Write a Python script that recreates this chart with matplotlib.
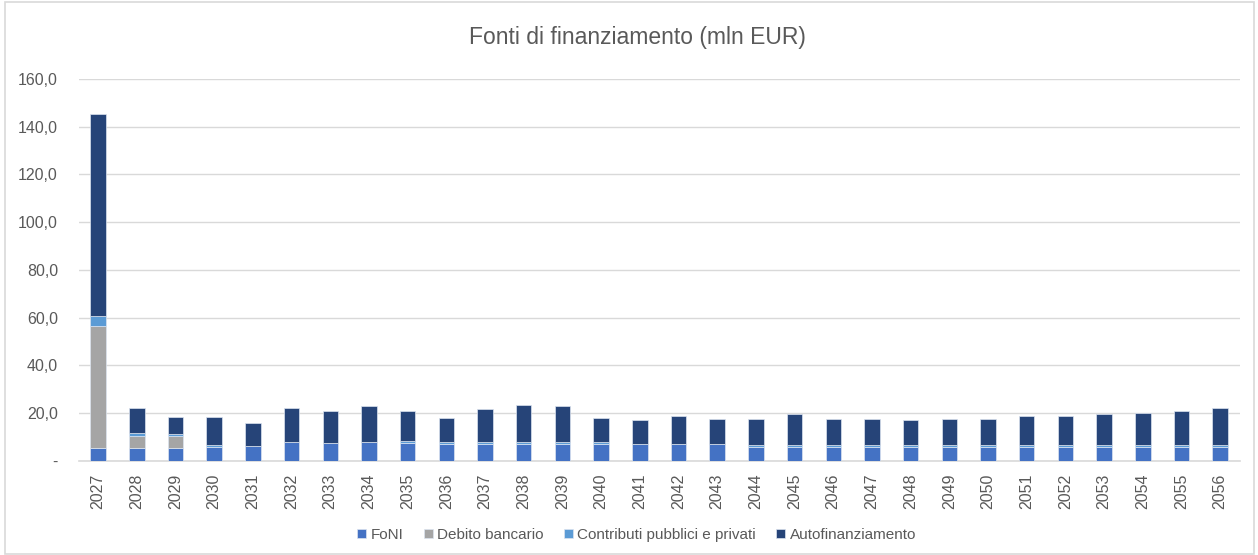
import numpy as np
import matplotlib.pyplot as plt
from matplotlib.patches import Rectangle
from matplotlib.ticker import FuncFormatter

plt.rcParams['font.family'] = ['Liberation Sans', 'DejaVu Sans']

years = [str(y) for y in range(2027, 2057)]
foni = [5.3, 5.3, 5.3, 5.9, 6.2, 8.0, 7.6, 7.8, 7.7, 7.0, 7.0, 7.0, 7.0, 7.0, 7.1, 7.1, 7.1,
        5.8, 5.8, 5.8, 5.8, 5.8, 5.8, 5.8, 5.8, 5.8, 5.8, 5.8, 5.8, 5.8]
debito = [51.3, 5.2, 5.2] + [0.0] * 27
contributi = [4.3, 1.3, 0.7, 0.8, 0.2, 0.0, 0.0, 0.0, 0.6, 0.8, 0.8, 0.8, 0.8, 0.8, 0.0, 0.0, 0.0,
              0.85, 0.85, 0.85, 0.85, 0.85, 0.85, 0.85, 0.85, 0.85, 0.85, 0.85, 0.85, 0.85]
autofin = [84.5, 10.3, 7.3, 11.8, 9.6, 14.1, 13.3, 15.1, 12.6, 10.2, 13.8, 15.8, 15.1, 10.2, 10.1,
           11.9, 10.6, 11.0, 13.0, 11.0, 11.0, 10.5, 11.0, 11.0, 12.3, 12.3, 13.0, 13.6, 14.3, 15.4]

series = [
    ('FoNI', foni, '#4472C4'),
    ('Debito bancario', debito, '#A5A5A5'),
    ('Contributi pubblici e privati', contributi, '#5B9BD5'),
    ('Autofinanziamento', autofin, '#264478'),
]

txt = '#595959'
grid = '#D9D9D9'

fig = plt.figure(figsize=(12.58, 5.55), dpi=100)
ax = fig.add_axes([0.0626, 0.1694, 0.9227, 0.6883])

x = np.arange(len(years))
bottom = np.zeros(len(years))
for name, vals, col in series:
    vals = np.array(vals)
    ax.bar(x, vals, width=0.4, bottom=bottom, color=col, label=name,
           edgecolor='#dce4f0', linewidth=0.5, zorder=3)
    bottom += vals

ax.set_xlim(-0.5, len(years) - 0.5)
ax.set_ylim(0, 160)
ax.set_yticks(np.arange(0, 161, 20))
ax.yaxis.set_major_formatter(FuncFormatter(
    lambda v, p: '-' if v == 0 else f'{v:.1f}'.replace('.', ',')))
ax.set_xticks(x)
ax.set_xticklabels(years, rotation=90)
ax.tick_params(axis='both', length=0, colors=txt, labelsize=11.5)
ax.tick_params(axis='y', pad=15)
ax.tick_params(axis='x', pad=9)
ax.grid(axis='y', color=grid, linewidth=1, zorder=0)
for s in ['top', 'right', 'left']:
    ax.spines[s].set_visible(False)
ax.spines['bottom'].set_color(grid)
ax.spines['bottom'].set_linewidth(1.2)

fig.text(0.507, 0.933, 'Fonti di finanziamento (mln EUR)', ha='center', va='center',
         fontsize=16.5, color=txt)

leg = fig.legend(loc='center', bbox_to_anchor=(0.506, 0.036), ncol=4, frameon=False,
                 fontsize=11, handlelength=0.6, handleheight=0.6, handletextpad=0.3,
                 columnspacing=1.3)
for t in leg.get_texts():
    t.set_color(txt)

fig.patches.append(Rectangle((0.004, 0.002), 0.993, 0.995, transform=fig.transFigure,
                             fill=False, edgecolor=grid, linewidth=1.2))

fig.savefig('out.png', dpi=100, facecolor='white')
